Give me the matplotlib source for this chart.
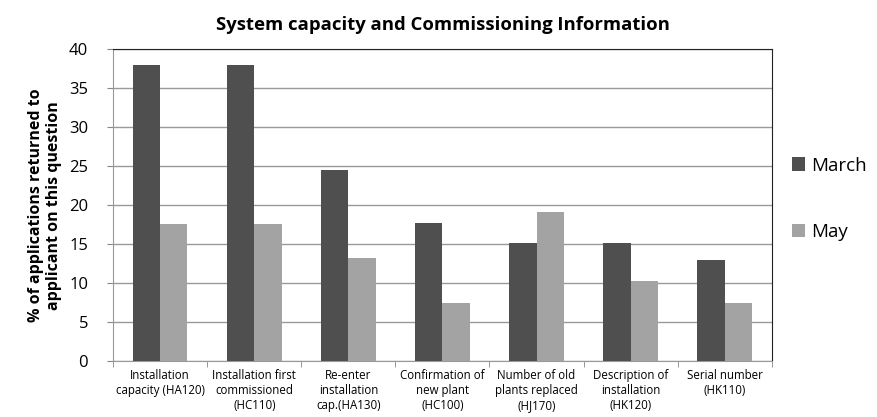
import matplotlib.pyplot as plt
import numpy as np

plt.rcParams['font.family'] = ['Open Sans', 'DejaVu Sans']

# Categorias y valores
categories = ['Installation\ncapacity (HA120)', 'Installation first\ncommissioned\n(HC110)',
              'Re-enter\ninstallation\ncap.(HA130)', 'Confirmation of\nnew plant\n(HC100)',
              'Number of old\nplants replaced\n(HJ170)', 'Description of\ninstallation\n(HK120)',
              'Serial number\n(HK110)']
march = [38.0, 38.0, 24.5, 17.7, 15.1, 15.1, 13.0]
may = [17.6, 17.6, 13.2, 7.4, 19.1, 10.3, 7.4]

colors = {'march': '#4f4f4f', 'may': '#a3a3a3'}

fig = plt.figure(figsize=(8.77, 4.17), dpi=100)
ax = fig.add_axes([0.129, 0.134, 0.751, 0.748])

x = np.arange(len(categories))
w = 0.29
ax.bar(x - w / 2, march, w, color=colors['march'], label='March', zorder=3)
ax.bar(x + w / 2, may, w, color=colors['may'], label='May', zorder=3)

ax.set_xlim(-0.5, len(categories) - 0.5)
ax.set_ylim(0, 40)
ax.set_yticks(range(0, 41, 5))
ax.tick_params(axis='y', labelsize=12, length=4, color='#888888', pad=14)
ax.set_xticks(x)
ax.set_xticklabels(categories, fontsize=8.3, linespacing=1.2)
ax.tick_params(axis='x', length=0, pad=6)
ax.set_xticks(np.arange(-0.5, len(categories), 1), minor=True)
ax.tick_params(axis='x', which='minor', length=4, color='#888888')

ax.grid(axis='y', color='#999999', linewidth=1, zorder=0)
for s in ['left', 'bottom']:
    ax.spines[s].set_color('#999999')
for s in ['top', 'right']:
    ax.spines[s].set_color('#222222')

ax.set_title('System capacity and Commissioning Information', fontsize=13.3,
             fontweight='bold', pad=14)
ax.set_ylabel('% of applications returned to\napplicant on this question', fontsize=11.5,
              fontweight='bold', labelpad=5, linespacing=1.15)

ax.legend(loc='center left', bbox_to_anchor=(1.005, 0.52), frameon=False, fontsize=13.5,
          handlelength=0.7, handleheight=0.7, handletextpad=0.3, labelspacing=2.6)

plt.savefig('out.png')
